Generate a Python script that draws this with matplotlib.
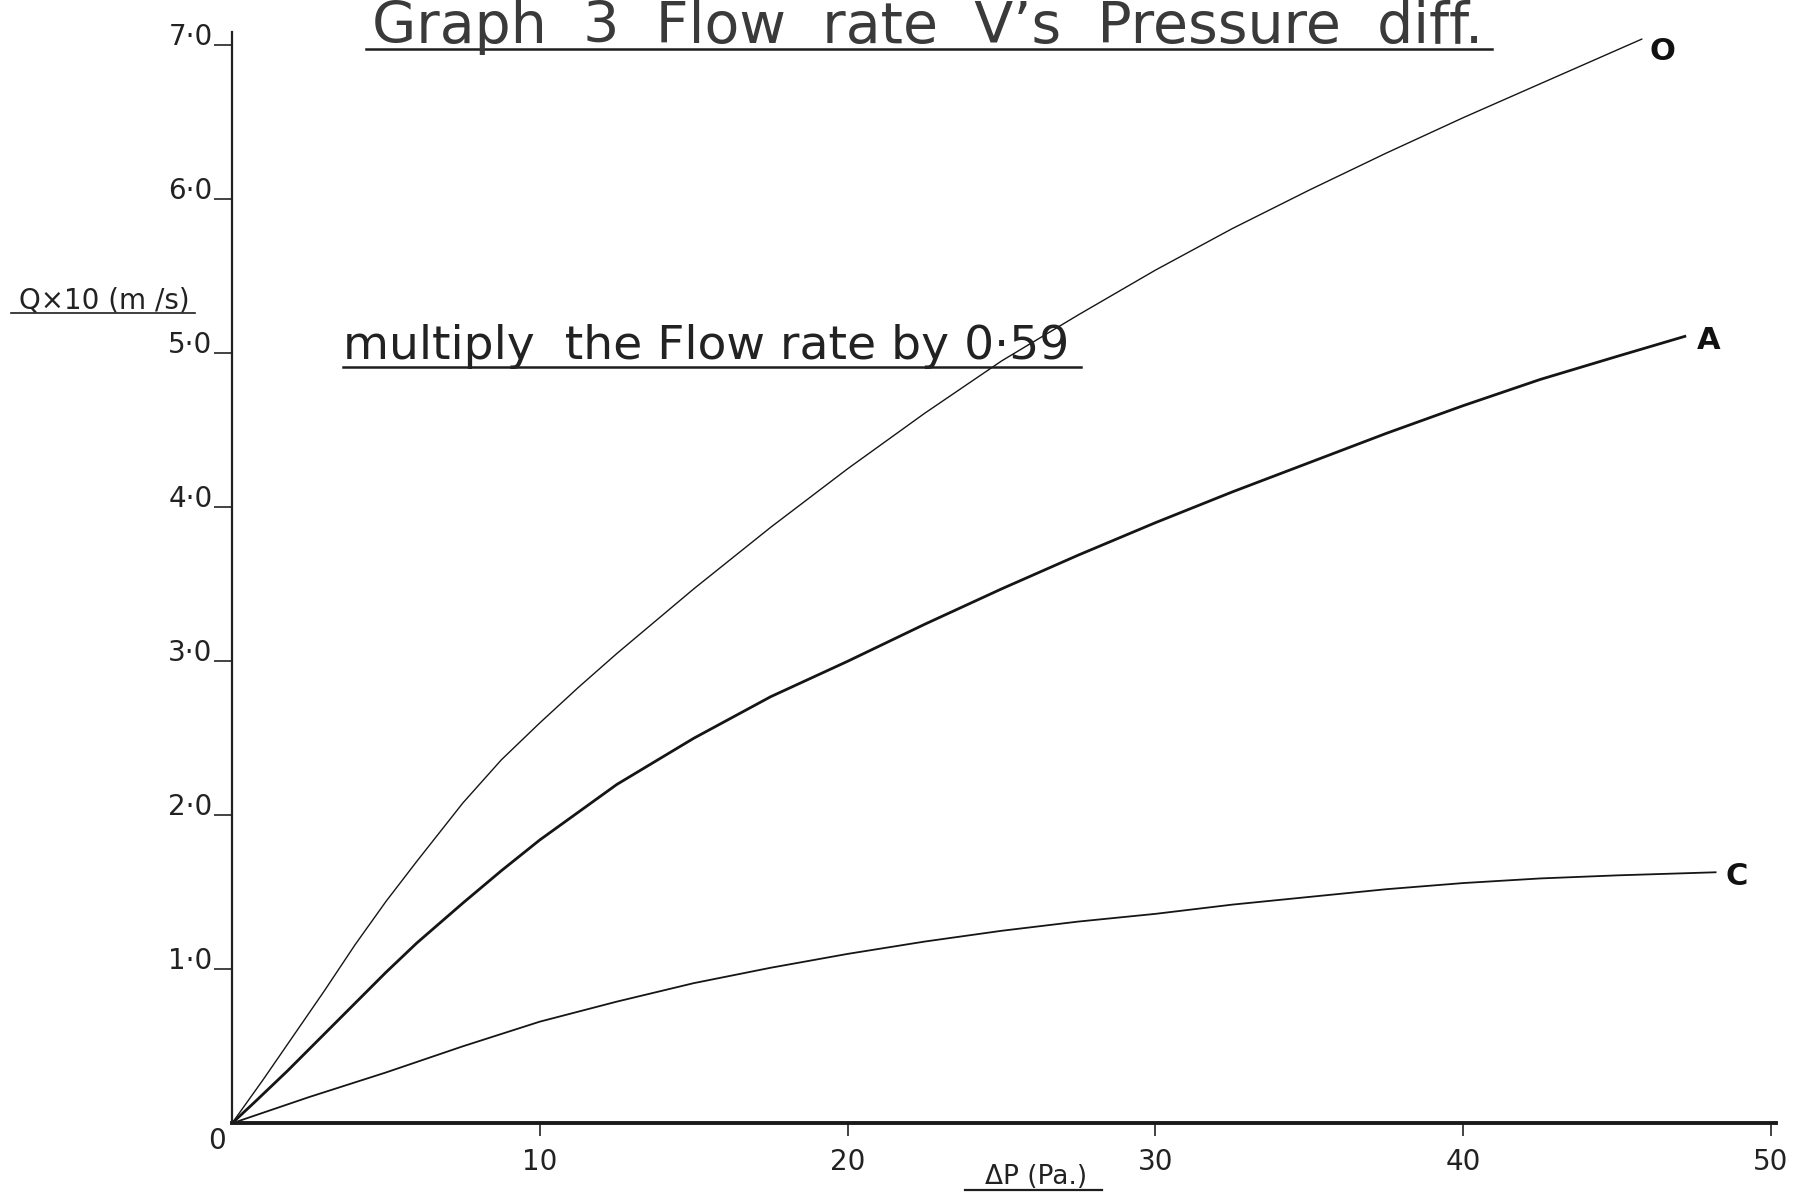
import numpy as np
import matplotlib
matplotlib.use("Agg")
import matplotlib.pyplot as plt
from matplotlib.lines import Line2D

# ---- data ----
dp_O = [0, 1, 2, 3, 4, 5, 6, 7.5, 8.75, 10, 11.25, 12.5, 15, 17.5, 20, 22.5, 25, 27.5, 30, 32.5, 35, 37.5, 40, 42.5, 45.8]
q_O = [0, 0.28, 0.57, 0.86, 1.16, 1.44, 1.7, 2.08, 2.36, 2.6, 2.83, 3.05, 3.47, 3.87, 4.25, 4.61, 4.95, 5.25, 5.54, 5.81, 6.06, 6.3, 6.53, 6.75, 7.04]

dp_A = [0, 0.75, 1.8, 3.2, 5, 6, 7.5, 8.75, 10, 12.5, 15, 17.5, 20, 22.5, 25, 27.5, 30, 32.5, 35, 37.5, 40, 42.5, 45, 47.2]
q_A = [0, 0.14, 0.34, 0.62, 0.98, 1.17, 1.43, 1.64, 1.84, 2.2, 2.5, 2.77, 3.0, 3.24, 3.47, 3.69, 3.9, 4.1, 4.29, 4.48, 4.66, 4.83, 4.98, 5.11]

dp_C = [0, 2.5, 5, 7.5, 10, 12.5, 15, 17.5, 20, 22.5, 25, 27.5, 30, 32.5, 35, 37.5, 40, 42.5, 45, 48.2]
q_C = [0, 0.17, 0.33, 0.5, 0.66, 0.79, 0.91, 1.01, 1.1, 1.18, 1.25, 1.31, 1.36, 1.42, 1.47, 1.52, 1.56, 1.59, 1.61, 1.63]

curve_names = ["O", "A", "C"]
x_ticks = [10, 20, 30, 40, 50]
x_tick_labels = ["10", "20", "30", "40", "50"]
y_ticks = [1, 2, 3, 4, 5, 6, 7]
y_tick_labels = ["1·0", "2·0", "3·0", "4·0", "5·0", "6·0", "7·0"]

title_text = "Graph  3  Flow  rate  V’s  Pressure  diff."
note_text = "multiply  the Flow rate by 0·59"
ylabel_text = "Q×10 (m /s)"
xlabel_text = "ΔP (Pa.)"

# ---- figure ----
W, H = 1793, 1195
fig = plt.figure(figsize=(W / 100, H / 100), dpi=100)
fig.patch.set_facecolor("white")

def fx(px):
    return px / W

def fy(py):
    return 1 - py / H

ax = fig.add_axes([fx(232), fy(1123.3), 50.15 * 30.78 / W, 7.085 * 154 / H])
ax.set_xlim(0, 50.15)
ax.set_ylim(0, 7.085)
for s in ["top", "right"]:
    ax.spines[s].set_visible(False)
ax.spines["left"].set_linewidth(1.6)
ax.spines["bottom"].set_linewidth(2.8)
ax.spines["left"].set_color("#222222")
ax.spines["bottom"].set_color("#1a1a1a")

ink = "#151515"
ax.plot(dp_O, q_O, color=ink, lw=1.0, solid_joinstyle="round")
ax.plot(dp_A, q_A, color=ink, lw=2.0, solid_joinstyle="round")
ax.plot(dp_C, q_C, color=ink, lw=1.3, solid_joinstyle="round")

ax.set_xticks(x_ticks)
ax.set_xticklabels(x_tick_labels)
ax.set_yticks(y_ticks)
ax.set_yticklabels(y_tick_labels)
ax.tick_params(axis="x", direction="out", length=9, width=1.2, pad=9,
               labelsize=20, colors="#222222")
ax.tick_params(axis="y", direction="out", length=13, width=1.2, pad=1,
               labelsize=20, colors="#222222")
for lbl in ax.get_yticklabels():
    lbl.set_va("baseline")

ax.annotate("0", xy=(0, 0), xytext=(-11, -13), textcoords="offset points",
            ha="center", va="center", fontsize=20, color="#222222")

# curve end labels
ends = [(dp_O[-1], q_O[-1], (15, -9)), (dp_A[-1], q_A[-1], (17, -3)), (dp_C[-1], q_C[-1], (15, -3))]
for name, (ex, ey, off) in zip(curve_names, ends):
    ax.annotate(name, xy=(ex, ey), xytext=off, textcoords="offset points",
                ha="center", va="center", fontsize=22, fontweight="bold",
                color="#111111")

# texts
t_title = fig.text(fx(928), fy(43), title_text, ha="center", va="baseline",
                   fontsize=41, color="#3a3a3a")
t_note = fig.text(fx(343), fy(359), note_text, ha="left", va="baseline",
                  fontsize=34, color="#222222")
t_ylab = fig.text(fx(104), fy(309), ylabel_text, ha="center", va="baseline",
                  fontsize=20, color="#222222")
t_xlab = fig.text(fx(1036), fy(1184), xlabel_text, ha="center", va="baseline",
                  fontsize=19, color="#222222")

fig.canvas.draw()
rend = fig.canvas.get_renderer()

def underline(t, ypx, extl, extr, lw):
    bb = t.get_window_extent(rend)
    x0 = (bb.x0 - extl) / W
    x1 = (bb.x1 + extr) / W
    fig.add_artist(Line2D([x0, x1], [fy(ypx), fy(ypx)], transform=fig.transFigure,
                          color="#1e1e1e", lw=lw))

underline(t_title, 49, 6, 8, 1.8)
underline(t_note, 367, 0, 12, 1.8)
underline(t_ylab, 313, 8, 6, 1.2)
underline(t_xlab, 1190, 20, 15, 1.6)

fig.savefig("out.png", dpi=100, facecolor="white")
